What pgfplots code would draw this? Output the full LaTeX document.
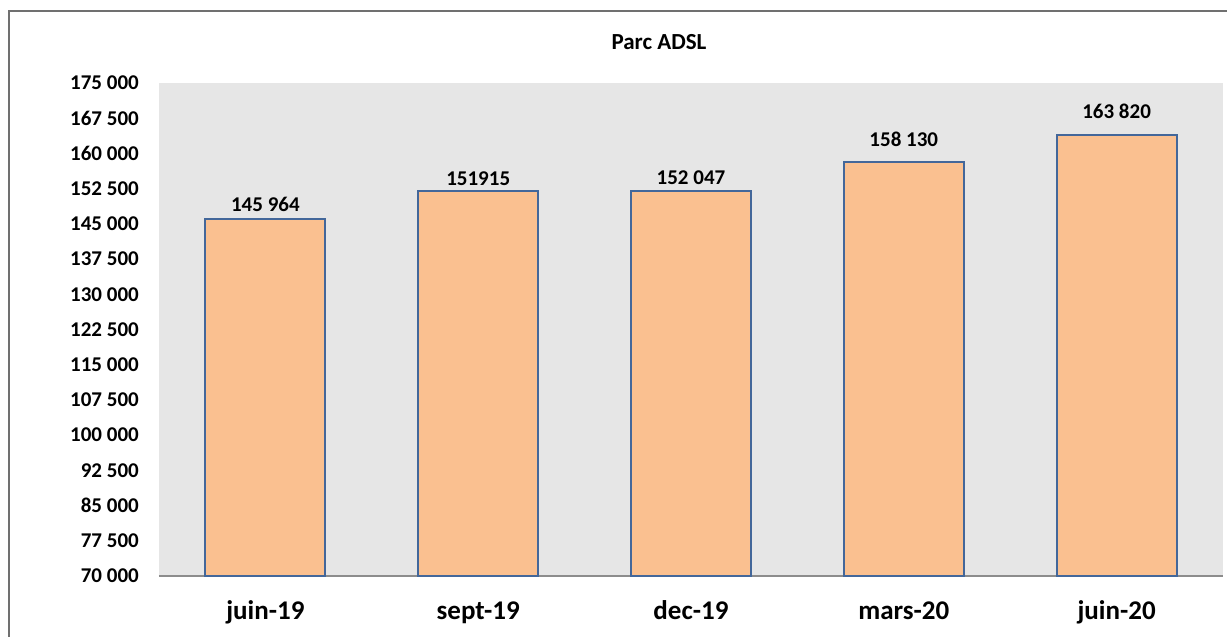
\documentclass[border=0pt]{standalone}
\usepackage{pgfplots}
\pgfplotsset{compat=1.18}
\usepackage{pgfplotstable}
\usepackage{fontspec}
\setmainfont{Carlito}
\definecolor{barfill}{HTML}{FAC090}
\definecolor{baredge}{HTML}{43679A}
\definecolor{plotbg}{HTML}{E6E6E6}
\definecolor{axgray}{HTML}{8C8C8C}
\definecolor{framegray}{HTML}{707070}
\pgfplotstableread{
x y lab off
0 145964 {145 964} 8
1 151915 {151915} 6
2 152047 {152 047} 6
3 158130 {158 130} 16
4 163820 {163 820} 17
}\datatable
\begin{document}
\begin{tikzpicture}
\useasboundingbox (-159pt,-61pt) rectangle (1068pt,576pt);
\clip (-159pt,-61pt) rectangle (1068pt,576pt);
\draw[framegray, line width=2pt] (-150pt,-120pt) rectangle (1100pt,565pt);
\begin{axis}[
  at={(0pt,0pt)}, anchor=south west,
  scale only axis, width=1064pt, height=493pt,
  xmin=-0.5, xmax=4.5, ymin=70000, ymax=175000,
  scaled y ticks=false,
  ytick={70000,77500,85000,92500,100000,107500,115000,122500,130000,137500,145000,152500,160000,167500,175000},
  yticklabels={70 000,77 500,85 000,92 500,100 000,107 500,115 000,122 500,130 000,137 500,145 000,152 500,160 000,167 500,175 000},
  xtick={0,1,2,3,4},
  xticklabels={juin-19,sept-19,dec-19,mars-20,juin-20},
  axis background/.style={fill=plotbg},
  axis x line*=bottom, axis y line*=left,
  x axis line style={draw=axgray, line width=2pt, -},
  y axis line style={draw=none},
  major tick length=0pt,
  tick style={draw=none},
  yticklabel style={font=\fontsize{21}{21}\selectfont\bfseries, anchor=east, inner sep=0pt, xshift=-20pt},
  xticklabel style={font=\fontsize{27}{27}\selectfont\bfseries, anchor=base, inner sep=0pt, yshift=-44pt},
  clip=false,
]
\addplot[ybar, bar width=0.564, fill=barfill, draw=baredge, line width=2pt,
  point meta=explicit symbolic,
  visualization depends on={\thisrow{off} \as \off},
  nodes near coords,
  nodes near coords style={font=\fontsize{21}{21}\selectfont\bfseries, anchor=base, inner sep=0pt, yshift=\off pt, text=black},
] table[x=x, y=y, meta=lab] {\datatable};
\end{axis}
\node[anchor=base, font=\fontsize{23}{23}\selectfont\bfseries, inner sep=0pt] at (500pt,526pt) {Parc ADSL};
\end{tikzpicture}
\end{document}
